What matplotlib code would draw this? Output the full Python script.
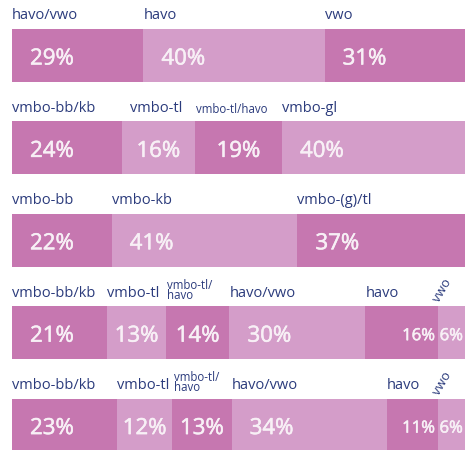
import numpy as np
import matplotlib
matplotlib.use("Agg")
import matplotlib.pyplot as plt
import matplotlib.patheffects as pe

# one list of labels and one list of percentages per bar
labels_1 = ["havo/vwo", "havo", "vwo"]
values_1 = [29, 40, 31]

labels_2 = ["vmbo-bb/kb", "vmbo-tl", "vmbo-tl/havo", "vmbo-gl"]
values_2 = [24, 16, 19, 40]

labels_3 = ["vmbo-bb", "vmbo-kb", "vmbo-(g)/tl"]
values_3 = [22, 41, 37]

labels_4 = ["vmbo-bb/kb", "vmbo-tl", "vmbo-tl/\nhavo", "havo/vwo", "havo", "vwo"]
values_4 = [21, 13, 14, 30, 16, 6]

labels_5 = ["vmbo-bb/kb", "vmbo-tl", "vmbo-tl/\nhavo", "havo/vwo", "havo", "vwo"]
values_5 = [23, 12, 13, 34, 11, 6]

rows = [(labels_1, values_1), (labels_2, values_2), (labels_3, values_3),
        (labels_4, values_4), (labels_5, values_5)]

DARK = "#c677b0"
LIGHT = "#d49dc9"
NAVY = "#2b3b7c"
PCT = "#f8f0f6"

plt.rcParams["font.family"] = ["Open Sans", "DejaVu Sans"]

fig = plt.figure(figsize=(4.68, 4.5), dpi=100)
# x in percent, y in pixels from the top
ax = fig.add_axes([12 / 468, 0, 453 / 468, 1])
ax.set_xlim(0, 100)
ax.set_ylim(450, 0)
ax.axis("off")

row_y0 = 55.5
row_step = 92.4
bar_h = 53

# a thin stroke to get between regular and semibold
thick = [pe.withStroke(linewidth=0.4, foreground=PCT)]

for r, (labels, values) in enumerate(rows):
    vals = np.array(values, dtype=float)
    widths = vals / vals.sum() * 100
    lefts = np.concatenate([[0], np.cumsum(widths)[:-1]])
    yc = row_y0 + r * row_step
    colors = [DARK if i % 2 == 0 else LIGHT for i in range(len(vals))]
    ax.barh(yc, widths, left=lefts, height=bar_h, color=colors, linewidth=0)

    top = yc - bar_h / 2
    n = len(vals)
    for i, (lab, v, l, w) in enumerate(zip(labels, values, lefts, widths)):
        # category label above the segment
        if lab == "vwo" and n == 6:
            ax.annotate(lab, (l, top), xytext=(3, 1), textcoords="offset points",
                        rotation=60, rotation_mode="anchor", ha="left", va="bottom",
                        fontsize=9.5, color=NAVY)
        elif "\n" in lab:
            ax.annotate(lab, (l, top), xytext=(1, 3), textcoords="offset points",
                        ha="left", va="bottom", fontsize=8.3, color=NAVY,
                        linespacing=0.75)
        elif lab == "vmbo-tl/havo":
            ax.annotate(lab, (l, top), xytext=(1, 4), textcoords="offset points",
                        ha="left", va="bottom", fontsize=8.3, color=NAVY)
        elif r == 1 and i == 1:
            ax.annotate(lab, (l, top), xytext=(6, 4), textcoords="offset points",
                        ha="left", va="bottom", fontsize=10.5, color=NAVY)
        else:
            ax.annotate(lab, (l, top), xytext=(0, 4), textcoords="offset points",
                        ha="left", va="bottom", fontsize=10.5, color=NAVY)

        # percentage inside the segment
        txt = f"{v}%"
        small = n == 6 and i >= 4
        if small and i == 5:
            ax.annotate(txt, (l + w / 2, yc), xytext=(0, -2.5), textcoords="offset points",
                        ha="center", va="center", fontsize=12, color=PCT,
                        path_effects=thick)
        elif small:
            ax.annotate(txt, (l + w, yc), xytext=(-2, -2.5), textcoords="offset points",
                        ha="right", va="center", fontsize=12, color=PCT,
                        path_effects=thick)
        elif v < 20:
            ax.annotate(txt, (l + w / 2, yc), xytext=(0, -2.5), textcoords="offset points",
                        ha="center", va="center", fontsize=16, color=PCT,
                        path_effects=thick)
        else:
            ax.annotate(txt, (l, yc), xytext=(13, -2.5), textcoords="offset points",
                        ha="left", va="center", fontsize=16, color=PCT,
                        path_effects=thick)

fig.savefig("out.png", dpi=100)
